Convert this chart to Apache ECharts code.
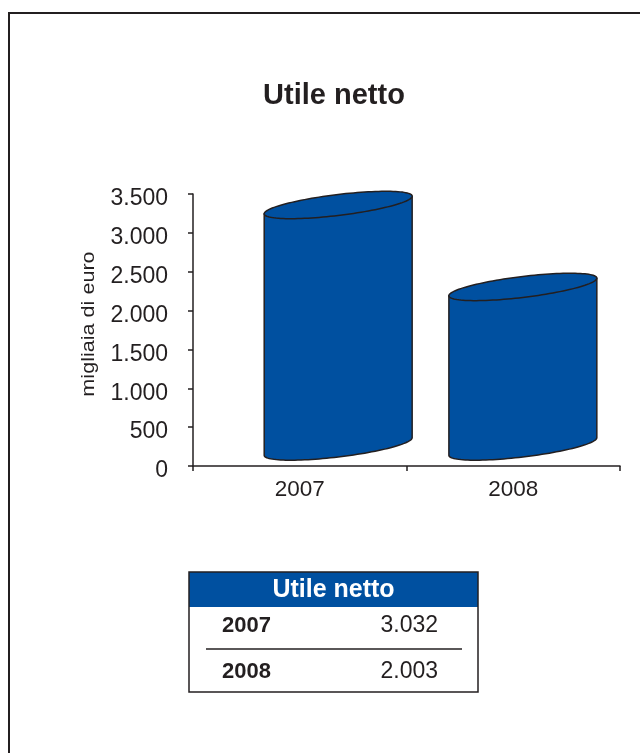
<!DOCTYPE html>
<html>
<head>
<meta charset="utf-8">
<script src="https://cdn.jsdelivr.net/npm/echarts@6/dist/echarts.min.js"></script>
<style>
html,body{margin:0;padding:0;background:#fff;}
#chart{width:640px;height:753px;}
</style>
</head>
<body>
<div id="chart"></div>
<script>
// ---- data ----
const chartTitle = 'Utile netto';
const yAxisTitle = 'migliaia di euro';
const categories = ['2007', '2008'];
const values = [3032, 2003];
const yMin = 0, yMax = 3500, yStep = 500;
const tableTitle = 'Utile netto';

// ---- helpers ----
function fmt(v) { return String(v).replace(/\B(?=(\d{3})+(?!\d))/g, '.'); }

const INK = '#231F20';
const BLUE = '#0050a0';
const FONT = '"Liberation Sans", Arial, Helvetica, sans-serif';

const chart = echarts.init(document.getElementById('chart'), null, {renderer: 'canvas'});

function renderCylinder(params, api) {
  const idx = api.value(0);
  const val = api.value(1);
  const p0 = api.coord([idx, 0]);
  const p1 = api.coord([idx, val]);
  const band = api.size([1, 0])[0];
  // perspective layout of the 3D cylinder
  const cx = p0[0] + band * (0.18 - 0.135 * idx);
  const a = band * 0.3465;
  const b = 10.5;
  const s = -0.119;
  const baseY = p0[1] - 19.5;
  const topY = baseY - (p0[1] - p1[1]) * 1.025;
  const N = 60;
  // body
  const body = [];
  body.push([cx - a, topY - s * a]);
  for (let k = 0; k <= N; k++) {
    const t = Math.PI - Math.PI * k / N;
    body.push([cx + a * Math.cos(t), baseY + b * Math.sin(t) + s * a * Math.cos(t)]);
  }
  body.push([cx + a, topY + s * a]);
  // top ellipse
  const top = [];
  for (let k = 0; k < 2 * N; k++) {
    const t = 2 * Math.PI * k / (2 * N);
    top.push([cx + a * Math.cos(t), topY + b * Math.sin(t) + s * a * Math.cos(t)]);
  }
  const st = {fill: BLUE, stroke: INK, lineWidth: 1.5, lineJoin: 'round'};
  return {
    type: 'group',
    children: [
      {type: 'polygon', shape: {points: body}, style: st},
      {type: 'polygon', shape: {points: top}, style: st}
    ]
  };
}

// table geometry
const TL = 189, TR = 478, TT = 572, TH = 607, TB = 692;
const rowY = [626, 672];

const graphics = [
  // frame
  {type: 'polyline', shape: {points: [[9, 760], [9, 13], [650, 13]]},
   style: {stroke: INK, lineWidth: 2, fill: null}, z: 10},
  // title
  {type: 'text', x: 334, y: 96,
   style: {text: chartTitle, font: 'bold 29px ' + FONT, fill: INK, align: 'center', verticalAlign: 'middle'}},
  // y axis title
  {type: 'text', x: 89, y: 324, rotation: Math.PI / 2, scaleX: 1.2,
   style: {text: yAxisTitle, font: '18px ' + FONT, fill: INK, align: 'center', verticalAlign: 'middle'}},
  // table header
  {type: 'rect', shape: {x: TL, y: TT, width: TR - TL, height: TH - TT}, style: {fill: BLUE}},
  {type: 'rect', shape: {x: TL, y: TT, width: TR - TL, height: TB - TT},
   style: {fill: null, stroke: INK, lineWidth: 1.5}, z: 5},
  {type: 'text', x: (TL + TR) / 2, y: 590,
   style: {text: tableTitle, font: 'bold 25px ' + FONT, fill: '#fff', align: 'center', verticalAlign: 'middle'}},
  {type: 'line', shape: {x1: 206, y1: 649, x2: 462, y2: 649}, style: {stroke: INK, lineWidth: 1.5}}
];
categories.forEach(function (c, i) {
  graphics.push({type: 'text', x: 222, y: rowY[i],
    style: {text: c, font: 'bold 22px ' + FONT, fill: INK, align: 'left', verticalAlign: 'middle'}});
  graphics.push({type: 'text', x: 438, y: rowY[i],
    style: {text: fmt(values[i]), font: '23px ' + FONT, fill: INK, align: 'right', verticalAlign: 'middle'}});
});

chart.setOption({
  animation: false,
  backgroundColor: '#ffffff',
  textStyle: {fontFamily: FONT},
  grid: {left: 193, right: 20, top: 194, bottom: 287, outerBoundsMode: 'none'},
  xAxis: {
    type: 'category',
    data: categories,
    axisLine: {show: true, lineStyle: {color: INK, width: 1.5}},
    axisTick: {show: true, length: 5, lineStyle: {color: INK, width: 1.5}},
    axisLabel: {fontSize: 22.5, color: INK, margin: 12, fontFamily: FONT},
    splitLine: {show: false}
  },
  yAxis: {
    type: 'value',
    min: yMin, max: yMax, interval: yStep,
    axisLine: {show: true, lineStyle: {color: INK, width: 1.5}},
    axisTick: {show: true, length: 5, lineStyle: {color: INK, width: 1.5}},
    axisLabel: {
      color: INK, margin: 25,
      formatter: function (v) { return '{v|' + fmt(v) + '}'; },
      rich: {v: {fontSize: 23, fontFamily: FONT, color: INK, padding: [10, 0, 0, 0]}}
    },
    splitLine: {show: false}
  },
  series: [{
    type: 'custom',
    renderItem: renderCylinder,
    data: categories.map(function (c, i) { return [i, values[i]]; }),
    encode: {x: 0, y: 1},
    clip: false
  }],
  graphic: graphics
});
</script>
</body>
</html>
